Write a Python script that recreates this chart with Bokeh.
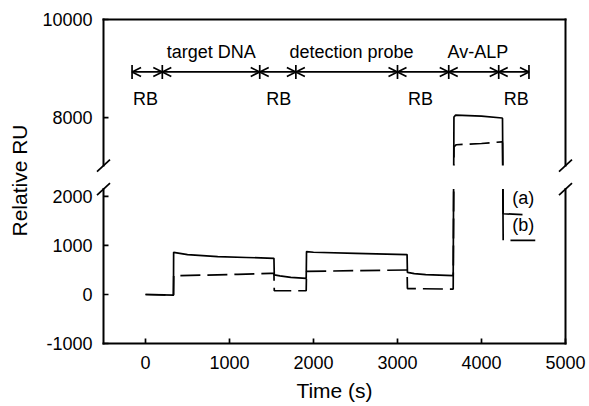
import numpy as np
from bokeh.plotting import figure
from bokeh.models import FixedTicker, Arrow, OpenHead, ColumnDataSource
from bokeh.embed import file_html
from bokeh.resources import INLINE
from bokeh.core.properties import value

# ---------------- data ----------------
# curve (a): solid
t_a = [0, 333, 335, 500, 860, 1200, 1529, 1533, 1600, 1730, 1913, 1917, 2000, 2500, 3114,
       3118, 3200, 3336, 3663, 3672, 3692, 4000, 4245, 4250, 4258, 4488]
ru_a = [0, -12, 860, 813, 772, 755, 738, 400, 378, 350, 328, 875, 862, 840, 813,
        451, 425, 404, 383, 8010, 8050, 8030, 7990, 7980, 1647, 1630]
# curve (b): dashed part
t_b = [0, 333, 336, 700, 1100, 1488, 1529, 1533, 1913, 1917, 2500, 3114, 3118, 3663,
       3672, 3700, 4000, 4245, 4250]
ru_b = [0, -12, 383, 395, 410, 430, 432, 76, 76, 471, 486, 500, 120, 110,
        7400, 7445, 7470, 7505, 7490]
# curve (b): final wash segment
t_b_tail = [4250, 4258, None, 4345, 4640]
ru_b_tail = [7490, 1105, None, 1105, 1105]

x_ticks = [0, 1000, 2000, 3000, 4000, 5000]
y_ticks = [-1000, 0, 1000, 2000, 8000, 10000]

phase_bounds = [-160, 200, 1360, 1790, 3000, 3610, 4205, 4565]
phase_row = 8930
phase_names = ["target DNA", "detection probe", "Av-ALP"]
phase_name_x = [783, 2452, 3958]
phase_name_y = 9340
rb_x = [0, 1587, 3274, 4414]
rb_y = 8370
curve_labels = ["(a)", "(b)"]
curve_label_x = [4365, 4365]
curve_label_y = [1965, 1415]

# ---------------- broken axis geometry ----------------
X_MIN, X_MAX = -500, 5000
Y_MIN, Y_MAX = -1000, 10000
BREAK_LO, BREAK_HI = 2150, 7020
GAP = 480
OFF = BREAK_HI - BREAK_LO - GAP


def fold(v):
    v = np.array([np.nan if e is None else e for e in v], dtype=float)
    return np.where(v > BREAK_LO, v - OFF, v)


def fold1(v):
    return float(fold([v])[0])


AX_W, AX_H = 462, 324
PAD_X, PAD_T, PAD_B = 10, 4, 2
TOP = fold1(Y_MAX)
ux = (X_MAX - X_MIN) / AX_W
uy = (TOP - Y_MIN) / AX_H

FW, FH = AX_W + 2 * PAD_X, AX_H + PAD_T + PAD_B
B_LEFT, B_RIGHT, B_TOP = 93, 13, 15
B_BOTTOM = 406 - B_TOP - FH

FONT = value("Liberation Sans")

p = figure(width=B_LEFT + FW + B_RIGHT, height=B_TOP + FH + B_BOTTOM,
           x_range=(X_MIN - PAD_X * ux, X_MAX + PAD_X * ux),
           y_range=(Y_MIN - PAD_B * uy, TOP + PAD_T * uy),
           min_border_left=B_LEFT, min_border_right=B_RIGHT,
           min_border_top=B_TOP, min_border_bottom=B_BOTTOM,
           output_backend="svg", toolbar_location=None)
p.outline_line_color = None
p.xgrid.visible = False
p.ygrid.visible = False

for ax in (p.xaxis[0], p.yaxis[0]):
    ax.axis_line_color = None
    ax.major_tick_line_color = None
    ax.minor_tick_line_color = None
    ax.major_tick_in = 0
    ax.major_tick_out = 0
    ax.minor_tick_in = 0
    ax.minor_tick_out = 0
    ax.major_label_text_font = "Liberation Sans"
    ax.major_label_text_font_size = "18px"
    ax.major_label_text_color = "black"
    ax.axis_label_text_font = "Liberation Sans"
    ax.axis_label_text_font_size = "21px"
    ax.axis_label_text_font_style = "normal"
    ax.axis_label_text_color = "black"

p.xaxis.ticker = FixedTicker(ticks=x_ticks)
p.xaxis.major_label_overrides = {t: str(t) for t in x_ticks}
p.xaxis.major_label_standoff = 10
p.xaxis.axis_label = "Time (s)"
p.xaxis.axis_label_standoff = 7

fy = [float(v) for v in fold(y_ticks)]
p.yaxis.ticker = FixedTicker(ticks=fy)
p.yaxis.major_label_overrides = {f: str(v) for f, v in zip(fy, y_ticks)}
p.yaxis.major_label_standoff = 1
p.yaxis.axis_label = "Relative RU"
p.yaxis.axis_label_standoff = 8

LW = 1.7
# data curves
p.line(t_a, fold(ru_a), line_color="black", line_width=LW)
p.line(t_b, fold(ru_b), line_color="black", line_width=LW, line_dash="20 7")
p.line(t_b_tail, fold(ru_b_tail), line_color="black", line_width=LW)

# white band hiding the broken region
p.quad(left=[X_MIN - PAD_X * ux], right=[X_MAX + PAD_X * ux],
       bottom=[BREAK_LO], top=[BREAK_HI - OFF], fill_color="white", line_color=None)

# axis box (broken)
lo_top = BREAK_HI - OFF
x0s = [X_MIN, X_MIN, X_MIN, X_MIN, X_MAX, X_MAX]
y0s = [Y_MIN, TOP, Y_MIN, lo_top, Y_MIN, lo_top]
x1s = [X_MAX, X_MAX, X_MIN, X_MIN, X_MAX, X_MAX]
y1s = [Y_MIN, TOP, BREAK_LO, TOP, BREAK_LO, TOP]
p.segment(x0s, y0s, x1s, y1s, line_color="black", line_width=2, line_cap="square")

# break slashes
sx, sy = [], []
for xa in (X_MIN, X_MAX):
    for ya in (BREAK_LO, lo_top):
        sx.append(xa)
        sy.append(ya)
sx = np.array(sx, float)
sy = np.array(sy, float)
p.segment(sx - 6.5 * ux, sy - 6 * uy, sx + 6.5 * ux, sy + 6 * uy, line_color="black", line_width=LW)

# inward ticks
xt = np.array(x_ticks, float)
p.segment(xt, np.full(len(xt), Y_MIN), xt, np.full(len(xt), Y_MIN + 5 * uy), line_color="black", line_width=LW)
yt = np.array(fy)
p.segment(np.full(len(yt), X_MIN), yt, np.full(len(yt), X_MIN + 5 * ux), yt, line_color="black", line_width=LW)

# phase arrows
row = fold1(phase_row)
src = ColumnDataSource(dict(xs=phase_bounds[:-1], xe=phase_bounds[1:],
                            ys=[row] * (len(phase_bounds) - 1), ye=[row] * (len(phase_bounds) - 1)))
p.add_layout(Arrow(x_start="xs", y_start="ys", x_end="xe", y_end="ye", source=src,
                   start=OpenHead(size=9, line_width=LW, line_color="black"),
                   end=OpenHead(size=9, line_width=LW, line_color="black"),
                   line_width=LW, line_color="black"))
p.scatter(phase_bounds, [row] * len(phase_bounds), marker="dash", angle=np.pi / 2,
          size=14, line_color="black", line_width=LW)

p.text(x=phase_name_x, y=[fold1(phase_name_y)] * len(phase_name_x), text=phase_names,
       text_align="center", text_baseline="alphabetic", text_font=FONT,
       text_font_size=value("18px"), text_color="black")
p.text(x=rb_x, y=[fold1(rb_y)] * len(rb_x), text=["RB"] * len(rb_x),
       text_align="center", text_baseline="alphabetic", text_font=FONT,
       text_font_size=value("18px"), text_color="black")
p.text(x=curve_label_x, y=curve_label_y, text=curve_labels,
       text_align="left", text_baseline="alphabetic", text_font=FONT,
       text_font_size=value("18px"), text_color="black")

open("out.html", "w").write(file_html(p, INLINE))
